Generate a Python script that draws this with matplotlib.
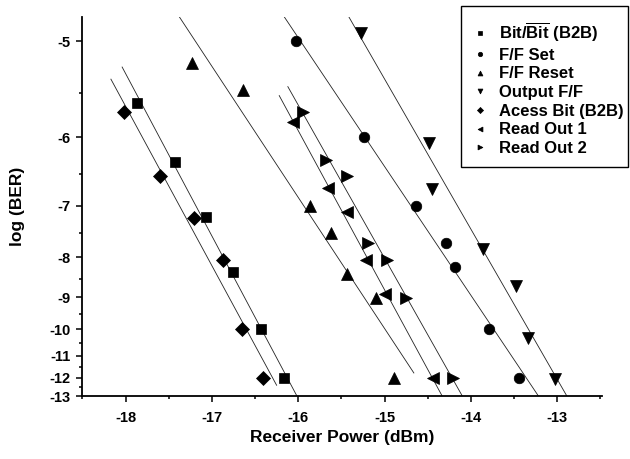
import numpy as np
import matplotlib
matplotlib.use("Agg")
import matplotlib.pyplot as plt
from matplotlib.patches import Rectangle

plt.rcParams["font.family"] = ["Liberation Sans", "DejaVu Sans"]
plt.rcParams["font.weight"] = "bold"
plt.rcParams["axes.unicode_minus"] = False
plt.rcParams["mathtext.fontset"] = "custom"
plt.rcParams["mathtext.rm"] = "Liberation Sans:bold"
plt.rcParams["mathtext.bf"] = "Liberation Sans:bold"

# --- data (x: dBm, y: log BER) ---
b2b_x = [-17.87, -17.43, -17.07, -16.75, -16.43, -16.17]
b2b_y = [-5.6, -6.33, -7.2, -8.34, -10.0, -12.0]

set_x = [-16.03, -15.24, -14.64, -14.29, -14.18, -13.79, -13.44]
set_y = [-5.0, -6.0, -7.0, -7.7, -8.22, -10.0, -12.0]

reset_x = [-17.23, -16.64, -15.86, -15.62, -15.44, -15.10, -14.89]
reset_y = [-5.2, -5.46, -7.0, -7.5, -8.38, -9.02, -12.0]

out_x = [-15.27, -14.48, -14.45, -13.86, -13.48, -13.34, -13.03]
out_y = [-4.93, -6.08, -6.73, -7.81, -8.69, -10.3, -12.05]

access_x = [-18.02, -17.60, -17.21, -16.87, -16.65, -16.41]
access_y = [-5.7, -6.53, -7.22, -8.05, -10.0, -12.0]

ro1_x = [-16.06, -15.65, -15.44, -15.21, -14.99, -14.44]
ro1_y = [-5.82, -6.71, -7.1, -8.05, -8.9, -12.03]

ro2_x = [-15.95, -15.68, -15.43, -15.19, -14.97, -14.75, -14.21]
ro2_y = [-5.7, -6.3, -6.53, -7.69, -8.05, -9.01, -12.0]

labels = [r"Bit/$\overline{\mathrm{Bit}}$ (B2B)", "F/F Set", "F/F Reset",
          "Output F/F", "Acess Bit (B2B)", "Read Out 1", "Read Out 2"]

# x-range over which each fitted line is drawn
fit_start = [-18.04, -16.6, -17.7, -15.9, -18.17, -16.22, -16.12]
fit_end = [-15.9, -13.0, -14.66, -12.7, -16.25, -14.2, -14.0]


def fwd(y):
    y = np.asarray(y, dtype=float)
    with np.errstate(divide="ignore", invalid="ignore"):
        return -1.0 / y


def inv(t):
    t = np.asarray(t, dtype=float)
    with np.errstate(divide="ignore", invalid="ignore"):
        return -1.0 / t


fig = plt.figure(figsize=(6.3, 4.59), dpi=100)
ax = fig.add_axes([82 / 630, 1 - 396 / 459, 520 / 630, 379 / 459])
ax.set_yscale("function", functions=(fwd, inv))

series = [
    (b2b_x, b2b_y, "s", 7.0),
    (set_x, set_y, "o", 7.6),
    (reset_x, reset_y, "^", 8.4),
    (out_x, out_y, "v", 8.4),
    (access_x, access_y, "D", 7.4),
    (ro1_x, ro1_y, "<", 8.4),
    (ro2_x, ro2_y, ">", 8.4),
]

for (xs, ys, mk, ms), lab, x0, x1 in zip(series, labels, fit_start, fit_end):
    xs = np.array(xs)
    ys = np.array(ys)
    # linear fit in the reciprocal (axis) space
    a, b = np.polyfit(xs, fwd(ys), 1)
    lx = np.array([x0, x1])
    ax.plot(lx, inv(a * lx + b), color="#222222", lw=0.6, zorder=1)
    ax.plot(xs, ys, linestyle="none", marker=mk, ms=ms, color="black",
            markeredgewidth=0.5, label=lab, zorder=3)

ax.set_xlim(-18.505, -12.48)
ax.set_ylim(-13, -4.8)

ax.set_xticks([-18, -17, -16, -15, -14, -13])
ax.set_xticks(np.arange(-18.5, -12.4, 0.5), minor=True)
ax.set_xticklabels(["-18", "-17", "-16", "-15", "-14", "-13"])
yt = list(range(-5, -14, -1))
ax.set_yticks(yt)
ax.set_yticklabels([str(v) for v in yt])
ax.set_yticks(np.arange(-5.5, -13, -1.0), minor=True)
ax.yaxis.set_minor_formatter(plt.NullFormatter())
ax.xaxis.set_minor_formatter(plt.NullFormatter())

for s in ["top", "right"]:
    ax.spines[s].set_visible(False)
for s in ["left", "bottom"]:
    ax.spines[s].set_linewidth(1.3)

ax.tick_params(which="major", direction="out", length=4.5, width=1.1,
               labelsize=10.5)
ax.tick_params(which="minor", direction="out", length=2.2, width=1.1)
ax.tick_params(axis="x", which="major", pad=6)
ax.tick_params(axis="y", which="major", pad=4)

ax.set_xlabel("Receiver Power (dBm)", fontsize=12.5, fontweight="bold", labelpad=4)
ax.set_ylabel("log (BER)", fontsize=12.5, fontweight="bold", labelpad=17)

leg = ax.legend(loc="upper left", bbox_to_anchor=(472 / 630, 1 - 21 / 459),
                bbox_transform=fig.transFigure, borderaxespad=0, borderpad=0,
                frameon=False, fontsize=12, markerscale=0.42, handlelength=1.0,
                handletextpad=0.62, labelspacing=0.22)
for t in leg.get_texts():
    t.set_fontweight("bold")

# legend box drawn separately so the text can run close to its right edge
fig.patches.append(Rectangle((461 / 630, 1 - 167 / 459), 167 / 630, 161 / 459,
                             transform=fig.transFigure, fill=False,
                             edgecolor="black", linewidth=1.0))

fig.savefig("out.png", dpi=100)
